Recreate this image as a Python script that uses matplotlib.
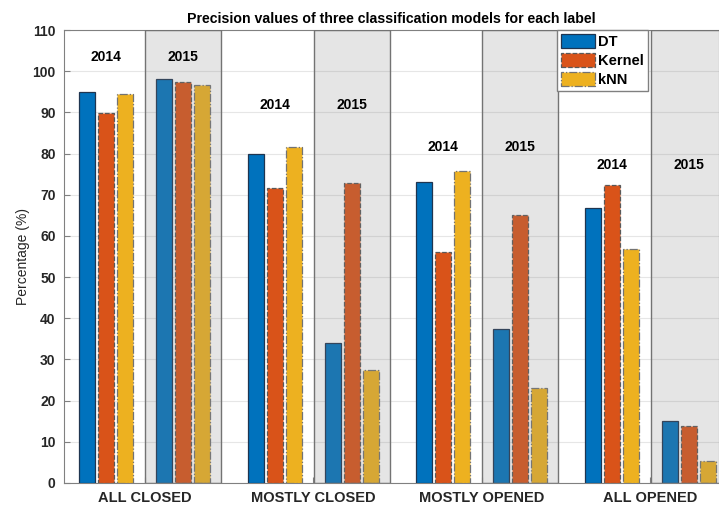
import numpy as np
import matplotlib
matplotlib.use("Agg")
import matplotlib.pyplot as plt
from matplotlib.patches import Rectangle

plt.rcParams['font.family'] = ['Liberation Sans', 'DejaVu Sans']

labels = ["ALL CLOSED", "MOSTLY CLOSED", "MOSTLY OPENED", "ALL OPENED"]
models = ["DT", "Kernel", "kNN"]

# precision (%) per label, 2014 and 2015
dt_2014 = [95.0, 79.9, 73.1, 66.8]
kernel_2014 = [89.9, 71.6, 56.1, 72.4]
knn_2014 = [94.4, 81.7, 75.8, 56.8]

dt_2015 = [98.0, 34.0, 37.3, 15.1]
kernel_2015 = [97.3, 72.8, 65.1, 13.9]
knn_2015 = [96.7, 27.4, 23.1, 5.3]

# height of the year captions above each group
year_text_y = [103.4, 91.8, 81.6, 77.3]

colors = ["#0072BD", "#D95319", "#EDB120"]
edges = ["#1f3550", "0.35", "0.45"]
styles = ["-", "--", "-."]

fig = plt.figure(figsize=(7.19, 5.07), dpi=100)
ax = fig.add_axes([64 / 719, 24 / 507, 655 / 719, 453 / 507])

x = np.arange(1, len(labels) + 1)
half = 0.2285
step = 0.113
w = 0.095

data14 = [dt_2014, kernel_2014, knn_2014]
data15 = [dt_2015, kernel_2015, knn_2015]

for k in range(3):
    off = (k - 1) * step
    ax.bar(x - half + off, data14[k], w, color=colors[k], edgecolor=edges[k],
           linestyle=styles[k], linewidth=0.9, zorder=3, label=models[k])
    ax.bar(x + half + off, data15[k], w, color=colors[k], edgecolor=edges[k],
           linestyle=styles[k], linewidth=0.9, zorder=3)

# shaded 2015 regions
for xi in x:
    ax.add_patch(Rectangle((xi + half - 0.225, 0), 0.45, 110,
                           facecolor=(0.52, 0.52, 0.52, 0.21),
                           edgecolor="0.45", linewidth=1.0, zorder=4))

for i, xi in enumerate(x):
    ax.text(xi - half, year_text_y[i], "2014", ha="center", va="center",
            fontsize=10, fontweight="bold", zorder=5)
    ax.text(xi + half, year_text_y[i], "2015", ha="center", va="center",
            fontsize=10, fontweight="bold", zorder=5)

ax.set_xlim(0.52, 0.52 + 655 / 168.5)
ax.set_ylim(0, 110)
ax.set_yticks(np.arange(0, 111, 10))
ax.set_xticks(x)
ax.set_xticklabels(labels)
for t in ax.get_xticklabels():
    t.set_fontweight("bold")
    t.set_fontsize(10.5)
    t.set_color("#262626")
for t in ax.get_yticklabels():
    t.set_fontweight("bold")
    t.set_fontsize(10)
    t.set_color("#262626")
ax.tick_params(direction="in", length=4, color="0.5", pad=6)
ax.yaxis.grid(True, color="0.9", linewidth=0.8, zorder=0)
ax.set_axisbelow(True)
for s in ax.spines.values():
    s.set_color("0.5")

ax.set_ylabel("Percentage (%)", fontsize=10, color="#262626", labelpad=2)
ax.set_title("Precision values of three classification models for each label",
             fontsize=10.2, fontweight="bold", pad=5)

leg = ax.legend(loc="upper left", bbox_to_anchor=((557 - 64) / 655, 1.0),
                prop={"weight": "bold", "size": 10.5}, fancybox=False,
                framealpha=1, edgecolor="0.5", borderaxespad=0,
                handlelength=2.3, handleheight=1.1, handletextpad=0.2,
                labelspacing=0.25, borderpad=0.3)
leg.set_zorder(10)

fig.savefig("out.png", dpi=100)
